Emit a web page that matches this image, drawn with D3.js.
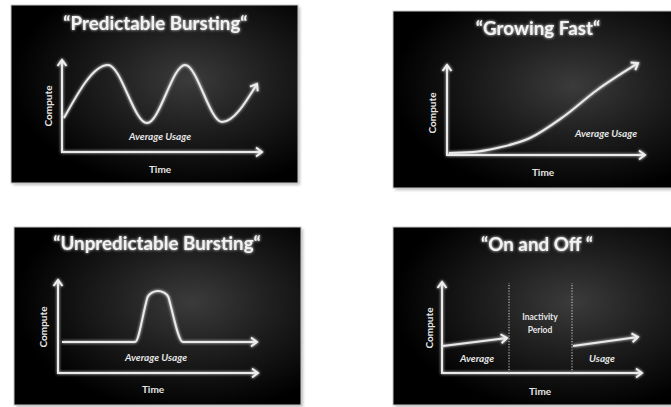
<!DOCTYPE html>
<html><head><meta charset="utf-8">
<script src="https://cdn.jsdelivr.net/npm/d3@7"></script>
<style>html,body{margin:0;padding:0;background:#fff;overflow:hidden}</style>
</head><body>
<svg id="c" width="671" height="407"></svg>
<script>
// ---- data ----
const titles = ["“Predictable Bursting“", "“Growing Fast“", "“Unpredictable Bursting“", "“On and Off “"];
const axisLabels = ["Compute", "Time"];
const usageLabel = "Average Usage";
const onOffLabels = ["Average", "Usage"];
const inactivityLabel = ["Inactivity", "Period"];

// Predictable bursting: time / compute
const predTime    = [1, 23, 42.5, 61.5, 80, 97.5];
const predCompute = [37, 94.6, 31.5, 94.6, 32.6, 74];
// Growing fast
const growTime    = [1, 13, 25.3, 41.9, 58.6, 75.8, 96.5];
const growCompute = [2.2, 3.3, 7.8, 18.9, 42.2, 72.2, 102];
// Unpredictable bursting
const burstTime    = [2, 38.5, 44, 44.8, 47, 50, 53, 55.2, 56, 62.5, 99.5];
const burstCompute = [33.3, 33.3, 75.3, 81.7, 86.5, 88.2, 86.5, 81.7, 75.3, 33.3, 33.3];
// On and off
const onTime1 = [0.5, 32.5], onCompute1 = [29.7, 38.5];
const onTime2 = [65.5, 98],  onCompute2 = [29.7, 39.6];
const dividers = [33.5, 65];

const svg = d3.select("#c");
const defs = svg.append("defs");

const rg = defs.append("radialGradient").attr("id", "bg")
  .attr("cx", 0.62).attr("cy", 0.42).attr("r", 0.62);
rg.append("stop").attr("offset", "0%").attr("stop-color", "#3b3b3b");
rg.append("stop").attr("offset", "45%").attr("stop-color", "#1f1f1f");
rg.append("stop").attr("offset", "100%").attr("stop-color", "#000");

const glow = defs.append("filter").attr("id", "glow").attr("x", "-20%").attr("y", "-20%").attr("width", "140%").attr("height", "140%");
glow.append("feGaussianBlur").attr("in", "SourceGraphic").attr("stdDeviation", 1.4).attr("result", "b");
const gm = glow.append("feMerge");
gm.append("feMergeNode").attr("in", "b");
gm.append("feMergeNode").attr("in", "SourceGraphic");

const sh = defs.append("filter").attr("id", "shadow").attr("x", "-10%").attr("y", "-10%").attr("width", "130%").attr("height", "130%");
sh.append("feGaussianBlur").attr("stdDeviation", 1.5);

defs.append("marker").attr("id", "arrow").attr("viewBox", "-10 -6 12 12")
  .attr("refX", 0).attr("refY", 0).attr("markerWidth", 12).attr("markerHeight", 12)
  .attr("markerUnits", "userSpaceOnUse").attr("orient", "auto")
  .append("path").attr("d", "M-6,-4.5 L0,0 L-6,4.5").attr("fill", "none")
  .attr("stroke", "#eee").attr("stroke-width", 2).attr("stroke-linejoin", "miter");

const panels = [
  {x: 11, y: 5, w: 287, h: 178, ax: [62, 262], ay: [152, 60], tx: 155.5, ty: 29.5,
   cx: 49, cy: 106, timeX: 160, timeY: 173, uX: 160, uY: 140},
  {x: 393, y: 11, w: 290, h: 177, ax: [447, 645], ay: [155, 65], tx: 538, ty: 34.5,
   cx: 433, cy: 113, timeX: 543, timeY: 176, uX: 606, uY: 137},
  {x: 14, y: 227, w: 287, h: 178, ax: [58, 258], ay: [373, 280], tx: 157, ty: 249.5,
   cx: 44, cy: 327, timeX: 153, timeY: 393, uX: 156, uY: 361},
  {x: 393, y: 227, w: 290, h: 178, ax: [442, 642], ay: [373, 282], tx: 537, ty: 250.5,
   cx: 430, cy: 328, timeX: 540, timeY: 395}
];

const font = "Lato, 'Open Sans', sans-serif";

panels.forEach((p, i) => {
  const g = svg.append("g");
  // shadow + border
  g.append("rect").attr("x", p.x + 2).attr("y", p.y + 2).attr("width", p.w).attr("height", p.h)
    .attr("fill", "#bdbdbd").attr("filter", "url(#shadow)");
  g.append("rect").attr("x", p.x).attr("y", p.y).attr("width", p.w).attr("height", p.h)
    .attr("fill", "url(#bg)").attr("stroke", "#c8c8c8").attr("stroke-width", 1);

  const x = d3.scaleLinear().domain([0, 100]).range(p.ax);
  const y = d3.scaleLinear().domain([0, 100]).range(p.ay);

  g.append("text").attr("x", p.tx).attr("y", p.ty).attr("text-anchor", "middle")
    .attr("font-family", font).attr("font-weight", "bold").attr("font-size", 18.8)
    .attr("fill", "#f2f2f2").attr("filter", "url(#glow)").text(titles[i]);

  const lg = g.append("g").attr("filter", "url(#glow)");
  const stroke = "#eaeaea";
  // axes
  lg.append("path").attr("d", `M${x(0)},${y(0)}L${x(0)},${y(100)}`)
    .attr("stroke", stroke).attr("stroke-width", 2).attr("fill", "none").attr("marker-end", "url(#arrow)");
  lg.append("path").attr("d", `M${x(0) - 1},${y(0)}L${x(100)},${y(0)}`)
    .attr("stroke", stroke).attr("stroke-width", 2).attr("fill", "none").attr("marker-end", "url(#arrow)");

  const line = (xs, ys, curve) => d3.line().x((d) => x(d)).y((d, k) => y(ys[k])).curve(curve)(xs);
  const addCurve = (xs, ys, curve) => lg.append("path").attr("d", line(xs, ys, curve))
    .attr("stroke", stroke).attr("stroke-width", 2).attr("fill", "none").attr("marker-end", "url(#arrow)");

  if (i === 0) addCurve(predTime, predCompute, d3.curveMonotoneX);
  if (i === 1) addCurve(growTime, growCompute, d3.curveMonotoneX);
  if (i === 2) addCurve(burstTime, burstCompute, d3.curveMonotoneX);
  if (i === 3) {
    addCurve(onTime1, onCompute1, d3.curveLinear);
    addCurve(onTime2, onCompute2, d3.curveLinear);
    dividers.forEach(dv => g.append("line").attr("x1", x(dv)).attr("x2", x(dv))
      .attr("y1", y(0)).attr("y2", y(99)).attr("stroke", "#bbb").attr("stroke-width", 1.2)
      .attr("stroke-dasharray", "1.2,1.6"));
  }

  const lbl = (tx, ty, t, opts = {}) => g.append("text").attr("x", tx).attr("y", ty)
    .attr("text-anchor", "middle").attr("font-family", font).attr("font-weight", "bold")
    .attr("font-style", opts.italic ? "italic" : "normal").attr("font-size", opts.size || 10)
    .attr("fill", "#e6e6e6").attr("transform", opts.rot ? `rotate(-90,${tx},${ty})` : null).text(t);

  lbl(p.cx + 3, p.cy, axisLabels[0], {rot: true});
  lbl(p.timeX, p.timeY, axisLabels[1]);
  if (i < 3) lbl(p.uX, p.uY, usageLabel, {italic: true, size: 10});
  else {
    lbl(477, 362, onOffLabels[0], {italic: true, size: 10});
    lbl(602, 362, onOffLabels[1], {italic: true, size: 10});
    lbl(540, 320, inactivityLabel[0], {size: 8.5});
    lbl(540, 333, inactivityLabel[1], {size: 8.5});
  }
});
</script>
</body></html>
